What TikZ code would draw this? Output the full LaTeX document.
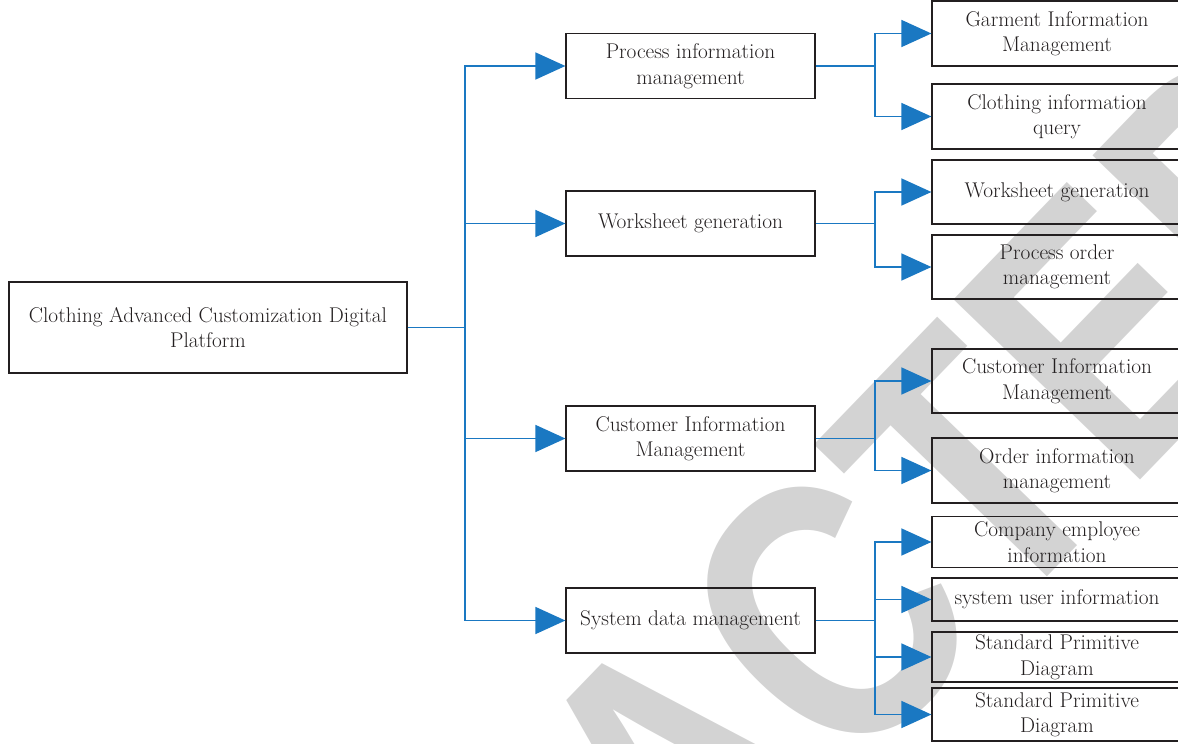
\documentclass[tikz,border=0pt]{standalone}
\usepackage{fontspec}
\newfontfamily\wmfont{Liberation Sans}
\usetikzlibrary{arrows.meta}
\definecolor{linkblue}{RGB}{26,120,194}
\definecolor{wmgray}{RGB}{211,211,211}
\definecolor{txt}{RGB}{35,31,32}
\begin{document}
\begin{tikzpicture}[x=1pt,y=-1pt,
  box/.style={draw=txt,line width=1.2pt,inner sep=0pt,align=center,text=txt,
    font=\fontsize{21.3}{25.5}\selectfont},
  lone/.style={box,minimum width=249pt,minimum height=65pt},
  ltwo/.style={box,minimum width=250pt},
  link/.style={draw=linkblue,line width=1.5pt},
  arr/.style={link,-{Triangle[length=30pt,width=27pt]}}]
\useasboundingbox (0,0) rectangle (1178,744);
% watermark
\node[text=wmgray,rotate=46,xscale=0.8,inner sep=0pt,font=\wmfont\bfseries\fontsize{377}{377}\selectfont] (wm) at (678,772) {RETRACTED};
% root
\node[box,minimum width=398pt,minimum height=91pt] (root) at (208,327.5) {Clothing Advanced Customization Digital\\Platform};
% level 1
\node[lone] (p1) at (690.5,66) {Process information\\management};
\node[lone] (p2) at (690.5,223.5) {Worksheet generation};
\node[lone] (p3) at (690.5,438.5) {Customer Information\\Management};
\node[lone] (p4) at (690.5,620.5) {System data management};
% level 2
\node[ltwo,minimum height=65pt] (a1) at (1057,33.5) {Garment Information\\Management};
\node[ltwo,minimum height=65pt] (a2) at (1057,116.5) {Clothing information\\query};
\node[ltwo,minimum height=64pt] (b1) at (1057,192) {Worksheet generation};
\node[ltwo,minimum height=64pt] (b2) at (1057,267) {Process order\\management};
\node[ltwo,minimum height=64pt] (c1) at (1057,381) {Customer Information\\Management};
\node[ltwo,minimum height=65pt] (c2) at (1057,470.5) {Order information\\management};
\node[ltwo,minimum height=51.5pt] (d1) at (1057,542) {Company employee\\information};
\node[ltwo,minimum height=43pt] (d2) at (1057,599.5) {system user information};
\node[ltwo,minimum height=50pt] (d3) at (1057,657) {Standard Primitive\\Diagram};
\node[ltwo,minimum height=53pt] (d4) at (1057,714.5) {Standard Primitive\\Diagram};
% trunk
\coordinate (t) at (465,327.5);
\draw[link] (root.east) -- (t);
\foreach \n in {p1,p2,p3,p4} \draw[arr] (t) |- (\n.west);
% level 2 junctions
\coordinate (j1) at (875,66);
\coordinate (j2) at (875,223.5);
\coordinate (j3) at (875,438.5);
\coordinate (j4) at (875,620.5);
\draw[link] (p1.east) -- (j1);
\draw[link] (p2.east) -- (j2);
\draw[link] (p3.east) -- (j3);
\draw[link] (p4.east) -- (j4);
\foreach \n in {a1,a2} \draw[arr] (j1) |- (\n.west);
\foreach \n in {b1,b2} \draw[arr] (j2) |- (\n.west);
\foreach \n in {c1,c2} \draw[arr] (j3) |- (\n.west);
\foreach \n in {d1,d2,d3,d4} \draw[arr] (j4) |- (\n.west);
\end{tikzpicture}
\end{document}
